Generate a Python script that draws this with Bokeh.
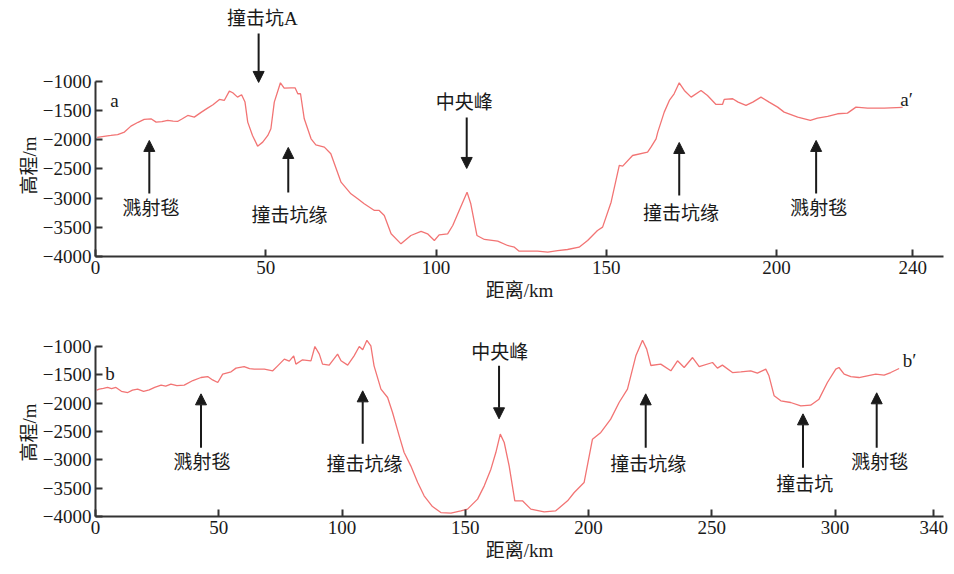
import numpy as np
from bokeh.plotting import figure
from bokeh.layouts import column
from bokeh.models import (Arrow, NormalHead, Title, CustomJSTickFormatter, FixedTicker,
                          Range1d, ColumnDataSource)
from bokeh.embed import file_html
from bokeh.resources import INLINE
from bokeh.core.properties import value

# ---------------- data: profile a-a' ----------------
a_km = [0.5, 2.5, 4.5, 6.5, 8.5, 10.4, 12.5, 14.3, 16.3, 17.8, 19.5, 21.2, 22.8, 24.1, 25.5,
        27.1, 29.0, 31.0, 32.9, 34.5, 36.4, 37.8, 39.3, 40.3, 41.7, 42.9, 43.9, 44.7, 46.1,
        47.6, 49.1, 50.6, 51.5, 52.5, 54.3, 55.4, 57.4, 58.6, 59.4, 60.2, 61.3, 63.3, 64.7,
        67.2, 69.1, 72.1, 75.0, 77.0, 78.9, 81.9, 83.3, 84.8, 86.8, 89.7, 92.6, 95.6, 97.5,
        99.5, 100.9, 103.4, 104.9, 109.1, 110.2, 112.0, 114.2, 118.1, 121.0, 123.0, 124.4,
        129.8, 132.8, 135.7, 138.6, 142.0, 144.5, 147.4, 148.9, 151.4, 153.8, 154.8, 157.7,
        162.1, 163.1, 164.6, 165.1, 167.0, 168.5, 169.9, 171.4, 172.9, 174.9, 177.8, 179.7,
        182.2, 184.1, 184.6, 187.1, 188.7, 191.0, 193.0, 195.4, 197.8, 200.3, 202.2, 206.2,
        209.9, 212.0, 215.0, 217.9, 220.8, 223.3, 226.7, 231.6, 237.0]
a_elev = [-1960, -1940, -1926, -1910, -1868, -1766, -1700, -1651, -1640, -1697, -1690, -1668,
          -1680, -1686, -1640, -1583, -1611, -1530, -1457, -1400, -1309, -1326, -1166, -1194,
          -1269, -1228, -1354, -1697, -1926, -2109, -2040, -1926, -1811, -1354, -1023, -1114,
          -1109, -1109, -1211, -1211, -1640, -1983, -2086, -2126, -2240, -2726, -2926, -3011,
          -3097, -3211, -3211, -3297, -3611, -3783, -3640, -3571, -3611, -3726, -3628, -3611,
          -3469, -2897, -3097, -3640, -3708, -3737, -3811, -3840, -3908, -3908, -3925, -3900,
          -3880, -3840, -3726, -3554, -3497, -3069, -2440, -2451, -2269, -2211, -2126, -1983,
          -1868, -1526, -1326, -1211, -1023, -1154, -1269, -1154, -1240, -1394, -1394, -1309,
          -1297, -1354, -1411, -1354, -1269, -1354, -1440, -1526, -1611, -1668, -1629, -1600,
          -1554, -1543, -1440, -1457, -1457, -1446]

# ---------------- data: profile b-b' ----------------
b_km = [0.5, 1.5, 3.2, 4.9, 6.5, 8.3, 10.5, 13.1, 15.0, 17.1, 19.5, 21.8, 24.0, 26.6, 28.5,
        30.6, 33.0, 36.0, 39.5, 42.8, 45.5, 47.5, 49.6, 51.6, 55.0, 57.0, 60.3, 62.5, 64.4,
        68.5, 71.9, 73.9, 76.6, 78.6, 80.4, 81.3, 84.0, 87.4, 89.0, 90.8, 92.1, 94.8, 98.2,
        99.6, 102.3, 104.9, 107.0, 108.4, 110.1, 111.7, 113.0, 115.8, 118.5, 120.5, 123.2,
        125.2, 127.9, 130.7, 133.3, 136.7, 140.1, 144.2, 148.2, 150.9, 155.0, 157.7, 160.4,
        162.4, 164.2, 165.8, 167.8, 170.1, 173.2, 176.6, 182.0, 186.7, 191.5, 194.2, 198.2,
        201.6, 205.0, 209.0, 212.4, 215.8, 219.2, 221.9, 223.6, 225.3, 229.3, 233.4, 236.1,
        238.8, 242.2, 244.9, 250.3, 252.3, 254.3, 258.4, 261.8, 265.8, 268.5, 271.9, 273.2,
        275.3, 278.0, 282.0, 286.1, 290.1, 293.5, 296.9, 300.3, 301.6, 303.7, 306.4, 309.7,
        313.1, 316.5, 319.9, 322.6, 326.0]
b_elev = [-1770, -1752, -1740, -1723, -1745, -1723, -1790, -1812, -1770, -1752, -1790, -1764,
          -1720, -1681, -1700, -1664, -1690, -1681, -1600, -1547, -1530, -1590, -1635, -1487,
          -1447, -1381, -1353, -1390, -1399, -1399, -1429, -1341, -1222, -1257, -1164, -1311,
          -1234, -1252, -1000, -1134, -1311, -1328, -1134, -1252, -1328, -1164, -1000, -1058,
          -890, -988, -1341, -1752, -1900, -2165, -2576, -2871, -3106, -3400, -3635, -3824,
          -3930, -3941, -3900, -3870, -3694, -3459, -3165, -2871, -2546, -2694, -3106, -3723,
          -3723, -3870, -3918, -3900, -3723, -3576, -3400, -2635, -2517, -2282, -1988, -1752,
          -1164, -890, -1046, -1335, -1311, -1429, -1252, -1370, -1194, -1353, -1282, -1381,
          -1328, -1459, -1447, -1429, -1470, -1399, -1517, -1870, -1958, -1988, -2047, -2035,
          -1929, -1635, -1399, -1370, -1487, -1530, -1547, -1517, -1487, -1505, -1459, -1388]

# ---------------- ticks ----------------
y_ticks = [-4000, -3500, -3000, -2500, -2000, -1500, -1000]
a_x_ticks = [0, 50, 100, 150, 200, 240]
b_x_ticks = [0, 50, 100, 150, 200, 250, 300, 340]
x_label = "距离/km"
y_label = "高程/m"

# ---------------- annotations ----------------
a_note_text = ["撞击坑A", "撞击坑缘", "溅射毯", "中央峰", "撞击坑缘", "溅射毯"]
a_note_x = [49.0, 57.0, 16.3, 108.3, 171.9, 212.4]
a_note_y = [80, -3297, -3177, -1360, -3263, -3177]
a_arrow_x = [47.9, 56.6, 15.8, 109.0, 171.4, 211.6]
a_arrow_tail = [-177, -2903, -2920, -1617, -2954, -2920]
a_arrow_tip = [-1017, -2131, -2011, -2491, -2046, -2011]
a_ends = ["a", "a′"]
a_ends_x = [4.3, 236.3]
a_ends_y = [-1326, -1309]

b_note_text = ["溅射毯", "撞击坑缘", "中央峰", "撞击坑缘", "撞击坑", "溅射毯"]
b_note_x = [43.2, 109.1, 164.0, 224.2, 287.7, 318.1]
b_note_y = [-3053, -3088, -1111, -3088, -3441, -3053]
b_arrow_x = [42.8, 108.4, 163.7, 223.2, 287.0, 316.9]
b_arrow_tail = [-2788, -2717, -1341, -2788, -3141, -2788]
b_arrow_tip = [-1835, -1782, -2276, -1835, -2188, -1817]
b_ends = ["b", "b′"]
b_ends_x = [4.0, 327.5]
b_ends_y = [-1482, -1252]

LATIN = "Liberation Serif"
MIXED = "'Liberation Serif', 'Noto Sans CJK SC'"
INK = "#1a1a1a"
CURVE = "#f27474"


def panel(km, elev, x_end, y_top, frame_h, top, bottom, xticks, notes_t, notes_x, notes_y,
          arr_x, arr_tail, arr_tip, ends, ends_x, ends_y, ylab_offset):
    p = figure(frame_width=848, frame_height=frame_h, width=951,
               x_range=Range1d(0, x_end), y_range=Range1d(-4000, y_top),
               output_backend="svg", toolbar_location=None,
               min_border_left=95, min_border_right=8, min_border_top=top,
               min_border_bottom=bottom)
    p.outline_line_color = None
    p.grid.visible = False
    p.background_fill_color = "white"

    p.line(km, elev, line_color=CURVE, line_width=1.3)

    src = ColumnDataSource(dict(x=notes_x, y=notes_y, t=notes_t))
    p.text(x="x", y="y", text="t", source=src, text_font=value(MIXED),
           text_font_size="19px", text_align="center", text_baseline="middle",
           text_color=INK)
    esrc = ColumnDataSource(dict(x=ends_x, y=ends_y, t=ends))
    p.text(x="x", y="y", text="t", source=esrc, text_font=value(LATIN),
           text_font_size="19px", text_align="left", text_baseline="middle",
           text_color=INK)

    asrc = ColumnDataSource(dict(x=arr_x, y0=arr_tail, y1=arr_tip))
    p.add_layout(Arrow(source=asrc, x_start="x", y_start="y0", x_end="x", y_end="y1",
                       line_width=2, line_color=INK,
                       end=NormalHead(size=11, fill_color=INK, line_color=INK, line_width=1)))

    for ax in (p.xaxis[0], p.yaxis[0]):
        ax.axis_line_color = "#333333"
        ax.axis_line_width = 2
        ax.major_tick_line_color = "#333333"
        ax.major_tick_line_width = 2
        ax.major_tick_in = 7
        ax.major_tick_out = 0
        ax.minor_tick_line_color = None
        ax.major_label_text_font = LATIN
        ax.major_label_text_font_size = "19px"
        ax.major_label_text_color = INK
        ax.major_label_standoff = 4

    p.xaxis.ticker = FixedTicker(ticks=xticks)
    p.yaxis.ticker = FixedTicker(ticks=y_ticks)
    p.yaxis.bounds = (-4000, -1000)
    p.yaxis.formatter = CustomJSTickFormatter(
        code="return tick < 0 ? '\u2212' + Math.abs(tick) : String(tick);")
    p.xaxis.axis_label = x_label
    p.xaxis.axis_label_text_font = MIXED
    p.xaxis.axis_label_text_font_size = "19px"
    p.xaxis.axis_label_text_font_style = "normal"
    p.xaxis.axis_label_text_color = INK
    p.xaxis.axis_label_standoff = 3

    p.add_layout(Title(text=y_label, align="left", offset=ylab_offset,
                       text_font=MIXED, text_font_size="19px", text_color=INK,
                       text_font_style="normal", standoff=0), "left")
    return p


p1 = panel(a_km, a_elev, 249, 250, 248, 8, 49, a_x_ticks, a_note_text, a_note_x, a_note_y,
           a_arrow_x, a_arrow_tail, a_arrow_tip, a_ends, a_ends_x, a_ends_y, 62)
p2 = panel(b_km, b_elev, 344, -276, 211, 0, 50, b_x_ticks, b_note_text, b_note_x, b_note_y,
           b_arrow_x, b_arrow_tail, b_arrow_tip, b_ends, b_ends_x, b_ends_y, 55)

layout = column(p1, p2, spacing=0)
open("out.html", "w").write(file_html(layout, INLINE))
